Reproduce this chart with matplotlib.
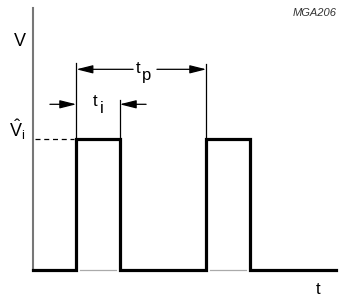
import matplotlib
matplotlib.use('Agg')
import matplotlib.pyplot as plt

plt.rcParams['font.family'] = ['Liberation Sans', 'DejaVu Sans']
plt.rcParams['mathtext.fontset'] = 'custom'
plt.rcParams['mathtext.rm'] = 'Liberation Sans'
plt.rcParams['mathtext.it'] = 'Liberation Sans:italic'

# ---- data (arbitrary units) ----
pulse_starts = [1.0, 4.0]     # pulse rising edges
pulse_width = 1.0             # t_i
amplitude = 1.0               # V_i
t_end = 7.0
v_axis_top = 2.0
labels = {"v": "V", "t": "t", "vi": r"$\hat{\mathrm{V}}_{\mathrm{i}}$",
          "ti": ("t", "i"), "tp": ("t", "p"), "code": "MGA206"}

W, H = 339, 296
fig = plt.figure(figsize=(W / 100, H / 100), dpi=100)
ax = fig.add_axes([0, 0, 1, 1])
ax.set_xlim(-0.762, 7.062)
ax.set_ylim(-0.198, 2.061)
ax.axis('off')

# waveform
xs, ys = [0.0], [0.0]
for s in pulse_starts:
    xs += [s, s, s + pulse_width, s + pulse_width]
    ys += [0, amplitude, amplitude, 0]
xs.append(t_end); ys.append(0)
ax.plot(xs, ys, color='black', lw=2.3, solid_joinstyle='miter', zorder=3)

# thin baseline under pulses
for s in pulse_starts:
    ax.plot([s + 0.09, s + pulse_width - 0.09], [0, 0], color='#aaaaaa', lw=0.9)

# vertical axis
ax.plot([0, 0], [0, v_axis_top], color='#777777', lw=1.5, zorder=2)

# dashed level line
ax.plot([0.05, pulse_starts[0] - 0.06], [amplitude, amplitude], color='black',
        lw=0.9, dashes=(4, 3))

# extension lines
s0, s1 = pulse_starts
ax.plot([s0, s0], [amplitude, 1.58], color='black', lw=0.9)
ax.plot([s0 + pulse_width] * 2, [amplitude, 1.30], color='black', lw=0.9)
ax.plot([s1, s1], [amplitude, 1.57], color='black', lw=0.9)

aprops = dict(arrowstyle='-|>,head_length=1.0,head_width=0.25', lw=0.9,
              color='black', mutation_scale=10, shrinkA=0, shrinkB=0)

# t_p arrows
yp = 1.532
ax.annotate('', xy=(s0, yp), xytext=(2.31, yp), arrowprops=aprops)
ax.annotate('', xy=(s1, yp), xytext=(2.86, yp), arrowprops=aprops)
ax.text(2.36, yp + 0.01, labels["tp"][0], fontsize=12, ha='left', va='center')
ax.text(2.52, yp - 0.045, labels["tp"][1], fontsize=12, ha='left', va='center')

# t_i arrows
yi = 1.265
ax.annotate('', xy=(s0, yi), xytext=(0.39, yi), arrowprops=aprops)
ax.annotate('', xy=(s0 + pulse_width, yi), xytext=(2.61, yi), arrowprops=aprops)
ax.text(1.37, yi + 0.02, labels["ti"][0], fontsize=12, ha='left', va='center')
ax.text(1.55, yi - 0.03, labels["ti"][1], fontsize=12, ha='left', va='center')

# labels
fig.text(20 / W, 1 - 42 / H, labels["v"], fontsize=13, ha='center', va='center')
fig.text(17 / W, 1 - 130 / H, labels["vi"], fontsize=13, ha='center', va='center')
fig.text(318 / W, 1 - 289 / H, labels["t"], fontsize=12, ha='center', va='center')
fig.text(337 / W, 1 - 12.5 / H, labels["code"], fontsize=8, style='italic',
         color='#333333', ha='right', va='center')

fig.savefig('out.png', dpi=100)
